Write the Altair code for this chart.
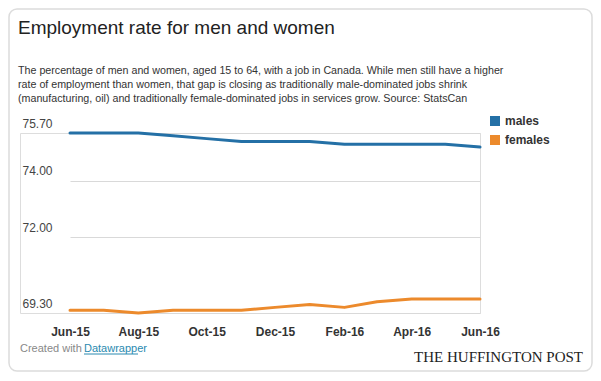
import altair as alt
import pandas as pd

months = ["2015-06-01T00:00", "2015-07-01T00:00", "2015-08-01T00:00", "2015-09-01T00:00",
          "2015-10-01T00:00", "2015-11-01T00:00", "2015-12-01T00:00", "2016-01-01T00:00",
          "2016-02-01T00:00", "2016-03-01T00:00", "2016-04-01T00:00", "2016-05-01T00:00",
          "2016-06-01T00:00"]
males = [75.7, 75.7, 75.7, 75.6, 75.5, 75.4, 75.4, 75.4, 75.3, 75.3, 75.3, 75.3, 75.2]
females = [69.4, 69.4, 69.3, 69.4, 69.4, 69.4, 69.5, 69.6, 69.5, 69.7, 69.8, 69.8, 69.8]
series = ["males", "females"]
colors = ["#2470a6", "#ec8a2c"]
y_ticks = [69.3, 72.0, 74.0, 75.7]
x_tick_months = [(2015, 6), (2015, 8), (2015, 10), (2015, 12), (2016, 2), (2016, 4), (2016, 6)]

title = "Employment rate for men and women"
subtitle = [
    "The percentage of men and women, aged 15 to 64, with a job in Canada. While men still have a higher",
    "rate of employment than women, that gap is closing as traditionally male-dominated jobs shrink",
    "(manufacturing, oil) and traditionally female-dominated jobs in services grow. Source: StatsCan",
]

FONT = "Liberation Sans"

df = pd.DataFrame({
    "month": months * 2,
    "series": ["males"] * len(males) + ["females"] * len(females),
    "rate": males + females,
})

lines = alt.Chart(df).mark_line(strokeWidth=3, strokeCap="round", strokeJoin="round").encode(
    x=alt.X("month:T",
            scale=alt.Scale(domain=[alt.DateTime(year=2015, month=6, date=1),
                                    alt.DateTime(year=2016, month=6, date=1)],
                            range=[50, 460], nice=False),
            axis=alt.Axis(title=None, values=[alt.DateTime(year=y, month=m, date=1) for y, m in x_tick_months],
                          format="%b-%y", grid=False, domain=False, ticks=False, labelFlush=False,
                          labelFont=FONT, labelFontSize=12, labelFontWeight="bold",
                          labelColor="#333", labelBaseline="top", labelPadding=13)),
    y=alt.Y("rate:Q",
            scale=alt.Scale(domain=[69.3, 75.7], nice=False, zero=False),
            axis=alt.Axis(title=None, values=y_ticks, format=".2f", domain=False, ticks=False,
                          grid=True, gridColor="#d9d9d9", gridWidth=1,
                          labelFont=FONT, labelFontSize=12, labelColor="#444",
                          labelAlign="left", labelBaseline="alphabetic", labelPadding=-2,
                          labelOffset=-6)),
    color=alt.Color("series:N", scale=alt.Scale(domain=series, range=colors),
                    legend=alt.Legend(title=None, orient="none", legendX=469, legendY=-18,
                                      symbolType="square", symbolSize=25, symbolStrokeWidth=5,
                                      labelFont=FONT, labelFontSize=12, labelFontWeight="bold",
                                      labelColor="#333", labelOffset=4, rowPadding=-7, padding=0)),
)

one = alt.Data(values=[{"k": 1}])

frame = alt.Chart(one).mark_rect(fill="none", stroke="#dcdcdc", strokeWidth=1.5, cornerRadius=8).encode(
    x=alt.value(-11), x2=alt.value(572), y=alt.value(-124), y2=alt.value(238))

created = alt.Chart(one).mark_text(text="Created with", font=FONT, fontSize=11, color="#888",
                                   align="left", baseline="alphabetic").encode(
    x=alt.value(0), y=alt.value(218.5))
dw = alt.Chart(one).mark_text(text="Datawrapper", font=FONT, fontSize=11, color="#2a8ab0",
                              align="left", baseline="alphabetic").encode(
    x=alt.value(64), y=alt.value(218.5))
dw_line = alt.Chart(one).mark_rule(color="#2a8ab0", strokeWidth=1).encode(
    x=alt.value(64), x2=alt.value(118), y=alt.value(221))
huff = alt.Chart(one).mark_text(text="THE HUFFINGTON POST", font="Liberation Serif", fontSize=15,
                                color="#222", align="right", baseline="alphabetic").encode(
    x=alt.value(563), y=alt.value(228.5))

chart = alt.layer(frame, lines, created, dw, dw_line, huff).properties(
    width=460, height=180,
    autosize=alt.AutoSizeParams(type="none"),
    padding={"left": 12, "top": 125, "right": 113, "bottom": 60},
    title=alt.Title(text=title, subtitle=subtitle, anchor="start", frame="group", offset=-95,
                    font=FONT, fontSize=19, fontWeight="normal", color="#222", dx=-2,
                    subtitleFont=FONT, subtitleFontSize=10.7, subtitleColor="#333",
                    subtitleLineHeight=14, subtitlePadding=28),
).configure_view(stroke=None).configure(background="white")

chart.save("out.html", embed_options={"renderer": "svg", "actions": False})
